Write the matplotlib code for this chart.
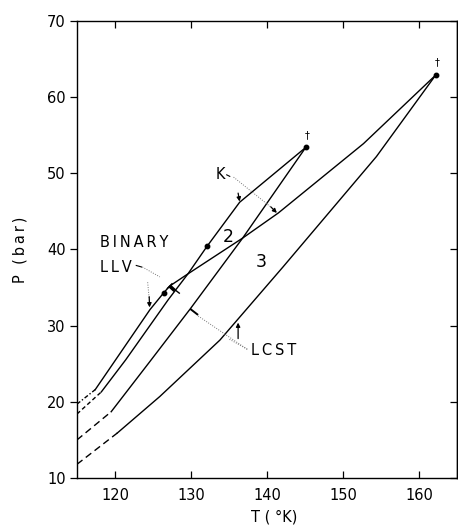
"""
P-T projection: three-phase lines ending at critical points (K line, LCST)
"""

import numpy as np
import matplotlib
matplotlib.use('Agg')
import matplotlib.pyplot as plt

plt.rcParams['font.family'] = ['DejaVu Sans']

# ---- data (T in K, P in bar) ----
# binary LLV line, bends into the K line and ends at the upper critical point
T_llv = [117.4, 124.6, 126.4, 127.2, 129.6, 136.8, 141.5, 152.7, 162.2]
P_llv = [21.6, 32.1, 34.3, 35.2, 36.8, 41.5, 44.8, 53.9, 62.9]
T_llv_ext = [115.0, 117.4]
P_llv_ext = [19.7, 21.6]

# second line, ends at the 145 K critical point
T_b = [118.2, 121.4, 127.0, 129.6, 132.1, 136.4, 145.1]
P_b = [21.3, 25.5, 33.4, 36.8, 40.4, 46.2, 53.4]
T_b_ext = [115.0, 118.2]
P_b_ext = [18.4, 21.3]

# third line, also ends at the 145 K critical point
T_c = [119.5, 124.6, 129.9, 136.8, 145.1]
P_c = [18.7, 25.3, 32.2, 41.5, 53.4]
T_c_ext = [115.0, 119.5]
P_c_ext = [15.0, 18.7]

# lowest curve, ends at the 162 K critical point
T_d = [120.3, 125.9, 133.8, 142.1, 154.4, 162.2]
P_d = [15.9, 20.7, 28.1, 37.7, 52.2, 62.9]
T_d_ext = [115.0, 120.3]
P_d_ext = [11.8, 15.9]

# marked points
T_crit = [145.1, 162.2]
P_crit = [53.4, 62.9]
T_dots = [126.4, 132.1]
P_dots = [34.3, 40.4]

x_ticks = [120, 130, 140, 150, 160]
y_ticks = [10, 20, 30, 40, 50, 60, 70]

TS = '\u2009'  # thin space, the lettering on the original is widely spaced

fig = plt.figure(figsize=(4.58, 5.27), dpi=100)
ax = fig.add_axes([0.1681, 0.0930, 0.8297, 0.8672])

LW = 1.0
ax.plot(T_llv, P_llv, color='black', lw=LW)
ax.plot(T_llv_ext, P_llv_ext, color='black', lw=LW, linestyle=(0, (3, 1.5, 1, 1.5)))
ax.plot(T_b, P_b, color='black', lw=LW)
ax.plot(T_b_ext, P_b_ext, color='black', lw=LW, linestyle=(0, (3, 2)))
ax.plot(T_c, P_c, color='black', lw=LW)
ax.plot(T_c_ext, P_c_ext, color='black', lw=LW, linestyle=(0, (5, 3)))
ax.plot(T_d, P_d, color='black', lw=LW)
ax.plot(T_d_ext, P_d_ext, color='black', lw=LW, linestyle=(0, (5, 3)))

ax.plot(T_crit, P_crit, 'o', color='black', markersize=3.2)
ax.plot(T_dots, P_dots, 'o', color='black', markersize=3.2)
for t, p in zip(T_crit, P_crit):
    ax.text(t + 0.2, p + 1.0, '†', fontsize=7, ha='center', va='bottom')


def perp_tick(T, P, slope, length, lw):
    # short bar normal to the curve, going to the lower-right side
    d = np.array([slope, -1.0]) / np.hypot(slope, 1.0)
    ax.plot([T, T + d[0] * length], [P, P + d[1] * length], color='black', lw=lw,
            solid_capstyle='butt')


def small_arrow(x0, y0, x1, y1):
    ax.annotate('', xy=(x1, y1), xytext=(x0, y0),
                arrowprops=dict(arrowstyle='-|>', color='black', lw=0.9,
                                mutation_scale=6, shrinkA=0, shrinkB=0))


def leader(xs, ys):
    ax.plot(xs, ys, color='#777777', lw=0.7, linestyle=(0, (1, 1.5)))


def label(x, y, s, size=10.5):
    ax.text(x, y, TS.join(s), fontsize=size, ha='left', va='center', color='black')


# bars on the lines
perp_tick(127.2, 35.2, 1.1, 0.9, 2.6)
ax.plot([126.9, 127.5], [34.9, 35.5], color='black', lw=1.0)
perp_tick(127.9, 34.7, 1.3, 0.8, 1.0)
perp_tick(129.9, 32.2, 1.3, 1.3, 1.4)
# little arrowhead sitting on the second line
small_arrow(136.2, 47.4, 136.4, 46.3)

# K label
label(133.2, 49.8, 'K')
ax.plot([134.7, 135.1], [49.8, 49.6], color='black', lw=0.8)
leader([135.6, 140.6], [49.5, 45.5])
small_arrow(140.5, 45.6, 141.3, 44.8)

# BINARY LLV label
label(118.0, 40.9, 'BINARY')
label(118.0, 37.7, 'LLV')
ax.plot([122.8, 123.5], [37.9, 37.7], color='black', lw=0.8)
leader([123.6, 125.9], [37.7, 36.4])
leader([124.3, 124.5], [35.7, 33.5])
small_arrow(124.5, 33.8, 124.55, 32.4)

# LCST label
label(137.9, 26.7, 'LCST')
leader([137.4, 130.9], [26.9, 31.3])
leader([137.4, 134.9], [26.9, 28.3])
small_arrow(136.2, 28.3, 136.2, 30.4)

# region numbers
ax.text(134.9, 41.6, '2', fontsize=12.5, ha='center', va='center')
ax.text(139.3, 38.4, '3', fontsize=12.5, ha='center', va='center')

ax.set_xlim(115, 165)
ax.set_ylim(10, 70)
ax.set_xticks(x_ticks)
ax.set_yticks(y_ticks)
ax.tick_params(axis='x', which='both', direction='in', top=True, length=5, width=0.9,
               pad=7, labelsize=10.5)
ax.tick_params(axis='y', which='both', direction='out', length=5, width=0.9,
               pad=3, labelsize=10.5)
# right side ticks point inwards, no labels
right = ax.secondary_yaxis('right')
right.set_yticks(y_ticks)
right.tick_params(direction='in', length=5, width=0.9, labelright=False)
for s in list(ax.spines.values()) + list(right.spines.values()):
    s.set_linewidth(1.0)

ax.set_xlabel('T ( °K)', fontsize=10.5)
ax.set_ylabel(TS.join('P (bar)'), fontsize=10.5)
ax.xaxis.set_label_coords(0.52, -0.068)
ax.yaxis.set_label_coords(-0.13, 0.5)

fig.savefig('out.png', dpi=100)
